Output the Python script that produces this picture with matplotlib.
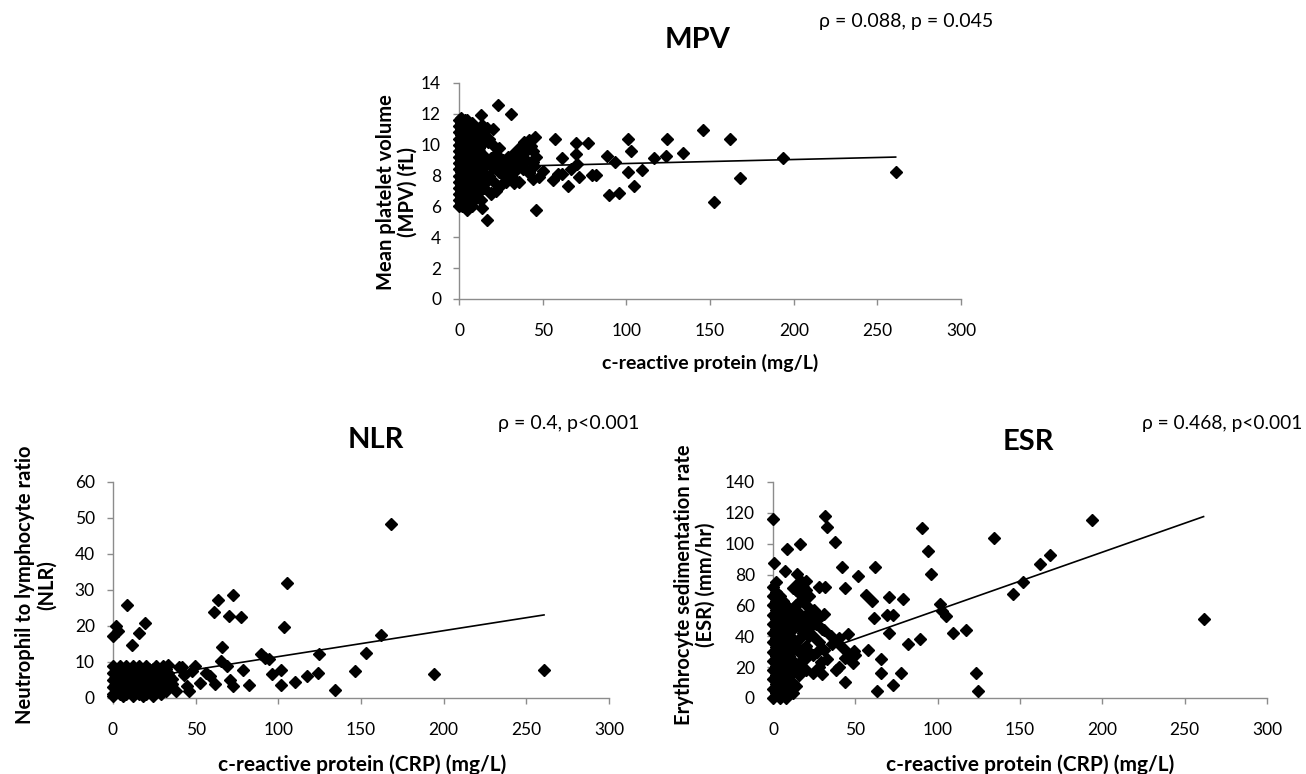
import numpy as np
import matplotlib
matplotlib.use('Agg')
import matplotlib.pyplot as plt

plt.rcParams.update({
    'font.family': ['Lato', 'DejaVu Sans'],
    'font.size': 12,
})

# ---------------- data ----------------
# MPV vs CRP -- dense cluster near CRP = 0
mpv_crp_blob = [0, 2, 5,
                0, 3, 6, 9,
                0, 2, 4, 7, 10,
                0, 3, 6, 9, 12,
                0, 2, 4, 7, 10, 13,
                0, 3, 6, 9, 12,
                0, 2, 5, 8, 11, 14,
                0, 3, 6, 9, 12,
                0, 2, 5, 8, 11, 14,
                0, 3, 6, 9, 12,
                0, 2, 5, 8, 11,
                0, 3, 6, 9, 12,
                0, 2, 5, 8, 11,
                0, 3, 6, 9,
                0, 2, 4, 8,
                1, 4.5, 8, 1, 4.5, 8, 11, 1, 4.5, 8, 11, 1, 4.5, 8, 11,
                1, 4.5, 8, 11, 1, 4.5, 8, 11, 1, 4.5, 8, 11, 1, 4.5, 8, 11,
                1, 4.5, 8, 11, 1, 4.5, 8, 11, 1, 4.5, 8, 1, 4.5, 8, 1, 4.5, 1, 4.5]
mpv_val_blob = [11.6, 11.6, 11.6,
                11.2, 11.2, 11.2, 11.2,
                10.8, 10.8, 10.8, 10.8, 10.8,
                10.4, 10.4, 10.4, 10.4, 10.4,
                10.0, 10.0, 10.0, 10.0, 10.0, 10.0,
                9.6, 9.6, 9.6, 9.6, 9.6,
                9.2, 9.2, 9.2, 9.2, 9.2, 9.2,
                8.8, 8.8, 8.8, 8.8, 8.8,
                8.4, 8.4, 8.4, 8.4, 8.4, 8.4,
                8.0, 8.0, 8.0, 8.0, 8.0,
                7.6, 7.6, 7.6, 7.6, 7.6,
                7.2, 7.2, 7.2, 7.2, 7.2,
                6.8, 6.8, 6.8, 6.8, 6.8,
                6.4, 6.4, 6.4, 6.4,
                6.0, 6.0, 6.0, 6.0,
                11.4, 11.4, 11.4, 11.0, 11.0, 11.0, 11.0, 10.6, 10.6, 10.6, 10.6,
                10.2, 10.2, 10.2, 10.2,
                9.8, 9.8, 9.8, 9.8, 9.4, 9.4, 9.4, 9.4, 9.0, 9.0, 9.0, 9.0,
                8.6, 8.6, 8.6, 8.6,
                8.2, 8.2, 8.2, 8.2, 7.8, 7.8, 7.8, 7.8, 7.4, 7.4, 7.4,
                7.0, 7.0, 7.0, 6.6, 6.6, 6.2, 6.2]
mpv_crp = [23.4, 30.8, 13.4, 16.4, 45.4, 57.2, 69.8, 76.9, 100.8, 124.3,
           145.7, 161.8, 102.8, 134.1, 116.7, 123.5, 193.6, 260.9, 168.1, 152.5,
           89.5, 95.8, 104.6, 109.2, 100.8, 88.7, 93.3, 79.4, 82.0, 71.8,
           70.6, 69.8, 61.8, 65.0, 61.8, 56.0, 59.2, 66.8, 50.4, 47.9,
           45.9, 16.4, 13.9, 5.0, 40.3, 37.3, 39.0, 41.6, 44.1, 31.5,
           29.0, 24.0, 20.0, 18.9, 18.9, 15.0, 11.3, 3.8, 6.3, 3.8,
           1.3, 15, 18, 22, 17, 20, 24, 27, 30, 33,
           28, 32, 36, 39, 42, 35, 38, 42, 45, 25,
           22, 19, 16, 14, 13, 26, 30, 44, 36, 40,
           44, 46, 12, 14, 16, 18, 21, 23, 26, 29,
           31, 34, 37, 40, 43, 33, 28, 13, 17, 20,
           11, 14]
mpv_val = [12.57, 12.0, 11.9, 11.1, 10.5, 10.35, 10.1, 10.1, 10.35, 10.35,
           10.93, 10.4, 9.6, 9.43, 9.17, 9.25, 9.13, 8.2, 7.82, 6.31,
           6.74, 6.89, 7.34, 8.35, 8.2, 9.28, 8.85, 8.03, 8.03, 7.88,
           8.74, 9.38, 9.17, 7.34, 8.1, 7.7, 8.1, 8.4, 8.3, 7.9,
           5.78, 5.09, 5.9, 5.78, 10.1, 9.38, 8.52, 8.14, 8.85, 7.88,
           8.4, 9.8, 10.0, 9.17, 6.9, 7.2, 7.55, 6.4, 11.1, 11.6,
           11.75, 10.8, 10.4, 9.4, 9.0, 8.5, 8.2, 8.0, 7.8, 8.2,
           8.8, 9.4, 9.8, 10.2, 10.3, 8.6, 8.4, 8.2, 8.6, 7.4,
           7.0, 6.8, 7.6, 8.2, 6.4, 9.0, 8.4, 7.8, 7.6, 9.0,
           9.6, 9.2, 9.8, 9.4, 8.8, 8.0, 7.6, 8.8, 8.4, 9.2,
           8.9, 9.0, 9.0, 9.6, 9.9, 7.5, 7.6, 10.4, 10.2, 11.0,
           10.9, 11.3]

# NLR vs CRP -- dense cluster
nlr_crp_blob = [0, 4, 8, 12, 16, 20, 26, 30,
                0, 3, 6, 10, 14, 18, 22, 25, 29, 33,
                0, 4, 8, 12, 16, 20, 24, 28, 32,
                0, 3, 6, 10, 14, 18, 22, 26, 30,
                0, 4, 8, 12, 16, 20, 25, 29,
                2, 6, 10, 15, 19, 24, 27, 31, 34, 36,
                2, 6, 10, 14, 18, 22, 28, 32,
                2, 5, 8, 12, 16, 20, 24, 27, 31,
                2, 6, 10, 14, 18, 22, 26, 30, 34,
                2, 5, 8, 12, 16, 20, 24, 28, 32,
                0, 6, 12, 18, 24,
                1, 5, 9, 13, 17, 21, 25, 29,
                1, 7, 11, 15, 19, 23, 27,
                3, 7, 11, 15, 19, 23, 27]
nlr_val_blob = [9, 9, 9, 9, 9, 9, 9, 9,
                7, 7, 7, 7, 7, 7, 7, 7, 7, 7,
                5, 5, 5, 5, 5, 5, 5, 5, 5,
                3, 3, 3, 3, 3, 3, 3, 3, 3,
                1, 1, 1, 1, 1, 1, 1, 1,
                4, 2, 6, 8, 2, 8, 6, 8, 6, 4,
                8, 8, 8, 8, 8, 8, 8, 8,
                6, 6, 6, 6, 6, 6, 6, 6, 6,
                4, 4, 4, 4, 4, 4, 4, 4, 4,
                2, 2, 2, 2, 2, 2, 2, 2, 2,
                0.5, 0.5, 0.5, 0.5, 0.5,
                5.5, 5.5, 5.5, 5.5, 5.5, 5.5, 5.5, 5.5,
                3.5, 3.5, 3.5, 3.5, 3.5, 3.5, 3.5,
                7.5, 7.5, 7.5, 7.5, 7.5, 7.5, 7.5]
nlr_crp = [168, 105, 72.3, 63.5, 60.9, 70.3, 77.4, 8.6, 19.5, 15.7,
           1.8, 3.0, 0.0, 11.4, 65.7, 103.3, 162.4, 152.8, 124.9, 89.8,
           91.9, 94.4, 65.5, 69.0, 78.7, 101.5, 96.4, 110.2, 101.5, 117.3,
           124.1, 146.4, 194.2, 260.7, 134.3, 82.5, 72.3, 71.0, 61.9, 56.3,
           58.4, 49.5, 52.5, 46.2, 41.9, 38.1, 45.0, 36.0, 43.0, 48.0,
           40.0, 33.0]
nlr_val = [48.2, 32.0, 28.7, 27.1, 23.8, 22.7, 22.6, 25.9, 20.8, 18.0,
           19.9, 18.6, 17.1, 14.6, 14.1, 19.7, 17.6, 12.4, 12.1, 12.1,
           11.1, 10.7, 10.2, 9.0, 7.9, 7.9, 6.7, 4.4, 3.7, 6.2,
           6.9, 7.6, 6.7, 7.8, 2.3, 3.7, 3.4, 5.0, 3.9, 6.9,
           6.2, 9.0, 4.1, 2.0, 8.7, 2.0, 3.4, 5.3, 6.5, 7.5,
           8.5, 9.2]

# ESR vs CRP -- dense cluster
esr_crp_blob = [0, 0, 0, 0, 0, 0, 0, 0, 0, 0, 0, 0, 0,
                2, 2, 2, 2, 2, 2, 2, 2, 2, 2, 2, 2, 2,
                4, 4, 4, 4, 4, 4, 4, 4, 4, 4, 4, 4,
                6, 6, 6, 6, 6, 6, 6, 6, 6, 6, 6,
                8, 8, 8, 8, 8, 8, 8, 8, 8, 8, 8,
                10, 10, 10, 10, 10, 10, 10, 10, 10, 10,
                12, 12, 12, 12, 12, 12, 12, 12, 12,
                14, 14, 14, 14, 14, 14,
                16, 16, 16, 16, 16, 16, 16, 16, 16,
                20, 20, 20, 20, 20, 20, 20, 20,
                24, 24, 24, 24, 24,
                28, 28, 28,
                18, 18, 18, 18, 22, 22, 22, 22]
esr_val_blob = [0, 6, 12, 18, 24, 30, 36, 42, 48, 54, 60, 66, 72,
                3, 9, 15, 21, 27, 33, 39, 45, 51, 57, 63, 69, 75,
                0, 6, 12, 18, 24, 30, 36, 42, 48, 54, 60, 66,
                3, 9, 15, 21, 27, 33, 39, 45, 51, 57, 63,
                0, 6, 12, 18, 24, 30, 36, 42, 48, 54, 60,
                3, 9, 15, 21, 27, 33, 39, 45, 51, 57,
                3, 10, 17, 24, 31, 38, 45, 52, 58,
                8, 20, 34, 48, 60, 70,
                15, 22, 30, 38, 46, 55, 62, 68, 75,
                18, 26, 34, 44, 50, 60, 70, 76,
                16, 28, 40, 48, 56,
                20, 36, 52,
                42, 52, 64, 72, 30, 46, 56, 66]
esr_crp = [0.0, 31.7, 33.0, 37.8, 16.6, 8.3, 0.8, 7.0, 90.2, 94.0,
           96.0, 193.5, 134.3, 168.3, 162.0, 151.9, 145.6, 62.0, 41.6, 43.6,
           51.9, 28.0, 31.7, 56.7, 60.0, 61.2, 70.5, 78.8, 69.3, 73.1,
           101.5, 102.8, 104.8, 109.6, 117.1, 70.5, 82.1, 89.4, 57.4, 65.5,
           65.7, 77.6, 72.6, 63.2, 123.4, 124.7, 261.5, 43.6, 40.3, 48.4,
           49.1, 45.3, 40.3, 41.1, 31.2, 30.0, 29.2, 31.2, 31.2, 24.7,
           19.6, 17.1, 14.6, 12.1, 45.0, 50.0, 36.0, 26.0, 22.0, 27.0,
           33.0, 38.0, 44.0, 25.0, 22.0, 30.0, 35.0, 18.0]
esr_val = [116.3, 117.8, 110.9, 101.2, 99.5, 96.3, 87.7, 82.3, 110.3, 95.2,
           80.1, 115.4, 103.4, 92.6, 87.0, 75.4, 67.2, 85.1, 85.1, 71.1,
           79.0, 71.9, 71.9, 66.8, 62.9, 51.7, 65.5, 64.0, 53.8, 53.8,
           61.2, 56.4, 53.2, 42.0, 44.2, 42.0, 34.9, 38.1, 31.0, 25.2,
           15.9, 15.9, 8.6, 4.7, 16.2, 4.7, 51.0, 10.1, 20.2, 22.4,
           30.6, 41.4, 39.2, 33.8, 31.0, 15.5, 23.5, 43.9, 54.3, 56.4,
           65.0, 75.8, 80.1, 71.5, 30.0, 28.0, 35.0, 48.0, 40.0, 30.0,
           25.0, 18.0, 26.0, 57.0, 50.0, 45.0, 40.0, 32.0]

# linear trend lines (intercept, slope)
mpv_trend = (8.52, 0.0026)
nlr_trend = (4.3, 0.072)
esr_trend = (19.5, 0.375)

axis_grey = '#8c8c8c'


def draw_panel(ax, xs, ys, trend, ymax, ystep):
    ax.plot(xs, ys, linestyle='none', marker='D', ms=6.4,
            color='black', clip_on=False, zorder=3)
    x_end = max(xs)
    tx = np.array([0, x_end])
    ax.plot(tx, trend[0] + trend[1] * tx, color='black', lw=1.2, zorder=4)
    ax.set_xlim(0, 300)
    ax.set_ylim(0, ymax)
    ax.set_xticks(np.arange(0, 301, 50))
    ax.set_yticks(np.arange(0, ymax + 0.1, ystep))
    for s in ['top', 'right']:
        ax.spines[s].set_visible(False)
    for s in ['left', 'bottom']:
        ax.spines[s].set_color(axis_grey)
        ax.spines[s].set_linewidth(1.0)
    ax.tick_params(axis='both', direction='out', length=4, width=1,
                   color=axis_grey, labelsize=12.5)
    ax.tick_params(axis='x', pad=13)
    ax.tick_params(axis='y', pad=9)


fig = plt.figure(figsize=(13.06, 7.74), dpi=100)

ax1 = fig.add_axes([0.3515, 0.6137, 0.3844, 0.2791])
ax2 = fig.add_axes([0.0865, 0.0982, 0.3798, 0.2791])
ax3 = fig.add_axes([0.5919, 0.0982, 0.3782, 0.2791])

draw_panel(ax1, mpv_crp_blob + mpv_crp, mpv_val_blob + mpv_val, mpv_trend, 14, 2)
draw_panel(ax2, nlr_crp_blob + nlr_crp, nlr_val_blob + nlr_val, nlr_trend, 60, 10)
draw_panel(ax3, esr_crp_blob + esr_crp, esr_val_blob + esr_val, esr_trend, 140, 20)

W, H = 1306, 774


def ftext(px, py, s, **kw):
    fig.text(px / W, 1 - py / H, s, **kw)


# titles
ftext(698, 40, 'MPV', fontsize=21, fontweight='bold', ha='center', va='center')
ftext(376, 440, 'NLR', fontsize=21, fontweight='bold', ha='center', va='center')
ftext(1028, 442, 'ESR', fontsize=21, fontweight='bold', ha='center', va='center')

# correlation annotations
ftext(819, 22, 'ρ = 0.088, p = 0.045', fontsize=14, ha='left', va='center')
ftext(498, 423, 'ρ = 0.4, p<0.001', fontsize=14, ha='left', va='center')
ftext(1142, 423, 'ρ = 0.468, p<0.001', fontsize=13.8, ha='left', va='center')

# x labels
ftext(710, 363, 'c-reactive protein (mg/L)', fontsize=14, fontweight='bold',
      ha='center', va='center')
ftext(362, 765, 'c-reactive protein (CRP) (mg/L)', fontsize=15, fontweight='bold',
      ha='center', va='center')
ftext(1030, 765, 'c-reactive protein (CRP) (mg/L)', fontsize=15, fontweight='bold',
      ha='center', va='center')

# y labels
ftext(397, 192, 'Mean platelet volume\n(MPV) (fL)', fontsize=14.5, fontweight='bold',
      ha='center', va='center', rotation=90, multialignment='center', linespacing=1.1)
ftext(36, 585, 'Neutrophil to lymphocyte ratio\n(NLR)', fontsize=14.5, fontweight='bold',
      ha='center', va='center', rotation=90, multialignment='center', linespacing=1.1)
ftext(695, 585, 'Erythrocyte sedimentation rate\n(ESR) (mm/hr)', fontsize=14.5,
      fontweight='bold', ha='center', va='center', rotation=90,
      multialignment='center', linespacing=1.1)

fig.savefig('out.png', dpi=100)
